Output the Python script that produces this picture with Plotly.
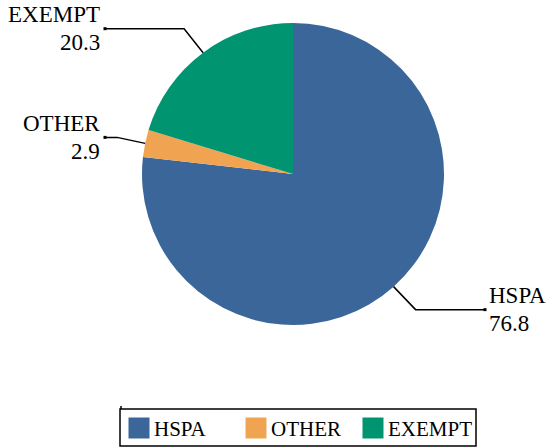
import math
import plotly.graph_objects as go

categories = ["HSPA", "OTHER", "EXEMPT"]
values = [76.8, 2.9, 20.3]
value_labels = ["76.8", "2.9", "20.3"]
colors = ["#3B6699", "#F0A452", "#009470"]

W, H = 548, 447
cx, cy, r = 293, 174, 151
FONT = "Liberation Serif"

def px(x):
    return x / W

def py(y):
    return 1 - y / H

fig = go.Figure(go.Pie(
    labels=categories, values=values, sort=False, direction="clockwise",
    rotation=0, textinfo="none", hoverinfo="label+value",
    marker=dict(colors=colors, line=dict(width=0)),
    domain=dict(x=[px(cx - r), px(cx + r)], y=[py(cy + r), py(cy - r)]),
    showlegend=False,
))

# leader lines + labels computed from slice mid-angles
total = sum(values)
cum = 0
shapes, annotations = [], []
for cat, v, vl in zip(categories, values, value_labels):
    mid = (cum + v / 2) / total * 2 * math.pi
    cum += v
    sx = cx + r * math.sin(mid)
    sy = cy - r * math.cos(mid)
    if math.sin(mid) > 0:
        ex, ey = sx + 22, sy + 23
        hx = 485
        anchor = "left"; tx = hx + 2
    elif math.cos(mid) > 0.5:
        ex, ey = sx - 19, sy - 24
        hx = 105
        anchor = "right"; tx = hx - 3
    else:
        ex, ey = sx - 28, sy - 6
        hx = 105
        anchor = "right"; tx = hx - 3
    path = f"M {px(sx)},{py(sy)} L {px(ex)},{py(ey)} L {px(hx)},{py(ey)}"
    shapes.append(dict(type="path", xref="paper", yref="paper", path=path,
                       line=dict(color="black", width=1.5)))
    shapes.append(dict(type="rect", xref="paper", yref="paper",
                       x0=px(hx - 1.5), x1=px(hx + 1.5),
                       y0=py(ey + 1.5), y1=py(ey - 1.5),
                       fillcolor="black", line=dict(width=0)))
    annotations.append(dict(x=px(tx), y=py(ey + 0.5), xref="paper", yref="paper",
                            text=cat, showarrow=False,
                            xanchor=anchor, yanchor="bottom", align=anchor,
                            font=dict(family=FONT, size=23, color="black")))
    annotations.append(dict(x=px(tx), y=py(ey - 0.5), xref="paper", yref="paper",
                            text=vl, showarrow=False,
                            xanchor=anchor, yanchor="top", align=anchor,
                            font=dict(family=FONT, size=23, color="black")))

# custom legend
lx0, lx1, ly0, ly1 = 120, 476, 409, 446
shapes.append(dict(type="rect", xref="paper", yref="paper",
                   x0=px(lx0), x1=px(lx1), y0=py(ly1), y1=py(ly0),
                   line=dict(color="black", width=1.5), fillcolor="rgba(0,0,0,0)"))
shapes.append(dict(type="line", xref="paper", yref="paper",
                   x0=px(lx0 + 1), x1=px(lx0 + 1), y0=py(ly0), y1=py(ly0 - 3),
                   line=dict(color="black", width=1.5)))
for i, (cat, col) in enumerate(zip(categories, colors)):
    sx0 = 128.5 + i * 117
    shapes.append(dict(type="rect", xref="paper", yref="paper",
                       x0=px(sx0), x1=px(sx0 + 21), y0=py(438.5), y1=py(417.5),
                       fillcolor=col, line=dict(width=0)))
    annotations.append(dict(x=px(sx0 + 23), y=py(428.5), xref="paper", yref="paper",
                            text=cat, showarrow=False, xanchor="left", yanchor="middle",
                            font=dict(family=FONT, size=21, color="black")))

fig.update_layout(
    width=W, height=H, margin=dict(l=0, r=0, t=0, b=0),
    paper_bgcolor="white", plot_bgcolor="white",
    shapes=shapes, annotations=annotations,
    showlegend=False,
    font=dict(family=FONT),
)

fig.write_html("out.html", config={"displayModeBar": False},
               post_script="document.body.style.margin='0';")
